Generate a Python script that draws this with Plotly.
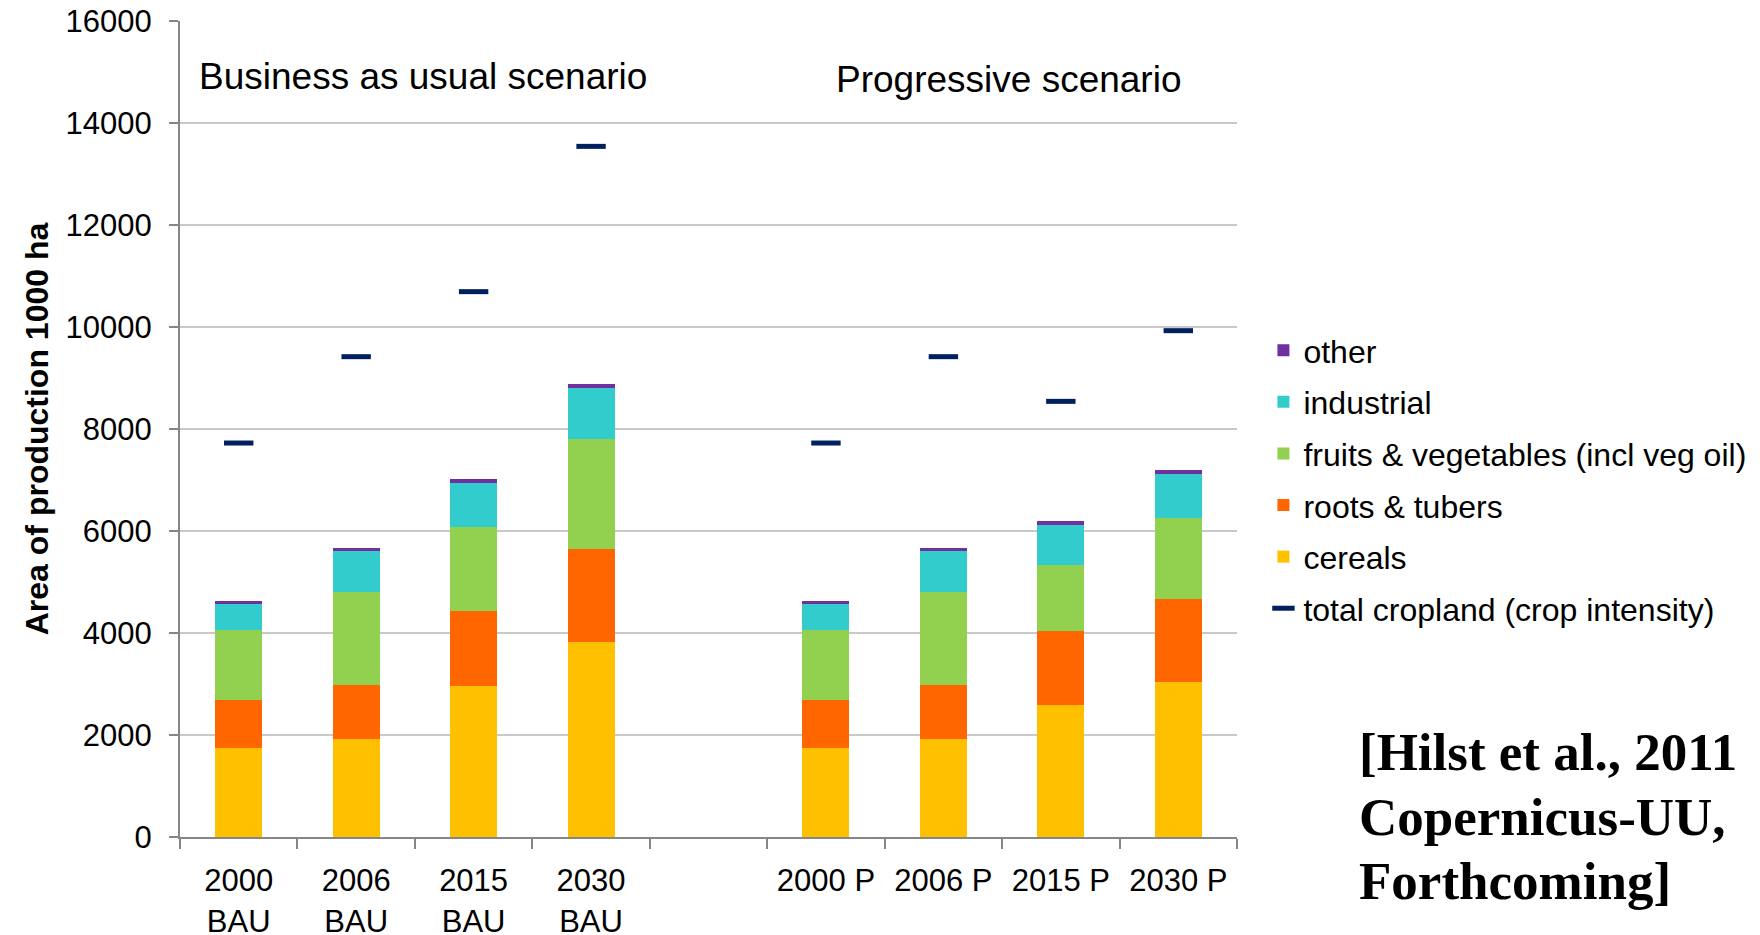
import plotly.graph_objects as go

# Category slots: four BAU years, an empty spacer slot, four progressive years
categories = ["2000<br>BAU", "2006<br>BAU", "2015<br>BAU", "2030<br>BAU", " ",
              "2000 P", "2006 P", "2015 P", "2030 P"]

# Area of production per crop group (1000 ha)
cereals = [1736, 1912, 2962, 3817, None, 1736, 1912, 2597, 3047]
roots_tubers = [959, 1064, 1462, 1821, None, 959, 1064, 1436, 1612]
fruits_veg = [1370, 1833, 1651, 2166, None, 1370, 1833, 1292, 1605]
industrial = [503, 803, 874, 1000, None, 503, 803, 796, 855]
other = [52, 52, 66, 78, None, 52, 52, 72, 72]

# Total cropland taking crop intensity into account
total_cropland = [7725, 9418, 10693, 13542, None, 7725, 9418, 8542, 9928]

y_ticks = [0, 2000, 4000, 6000, 8000, 10000, 12000, 14000, 16000]
y_tick_text = [str(v) for v in y_ticks]

citation_lines = ["[Hilst et al., 2011", "Copernicus-UU,", "Forthcoming]"]

SANS = "Liberation Sans, Arial, sans-serif"
SERIF = "Liberation Serif, Times New Roman, serif"

series = [
    ("cereals", cereals, "#FFC000", 5),
    ("roots & tubers", roots_tubers, "#FF6600", 4),
    ("fruits & vegetables (incl veg oil)", fruits_veg, "#92D050", 3),
    ("industrial", industrial, "#33CCCC", 2),
    ("other", other, "#7030A0", 1),
]

fig = go.Figure()
for name, vals, color, rank in series:
    fig.add_trace(go.Bar(
        x=categories, y=vals, name=name,
        marker=dict(color=color, line=dict(width=0)),
        legendrank=rank, legendgroup=name,
    ))

fig.add_trace(go.Scatter(
    x=categories, y=total_cropland, name="total cropland (crop intensity)",
    mode="markers",
    marker=dict(symbol="line-ew", size=21, color="#002060",
                line=dict(color="#002060", width=5)),
    legendrank=6, legendgroup="total",
))

# citation block, one annotation per line for tight line spacing
citation_y = [0.1039, 0.0249, -0.0539]
annotations = [
    dict(text="Business as usual scenario", xref="paper", yref="paper",
         x=0.016, y=0.932, xanchor="left", yanchor="middle",
         showarrow=False, font=dict(family=SANS, size=37)),
    dict(text="Progressive scenario", xref="paper", yref="paper",
         x=0.6186, y=0.928, xanchor="left", yanchor="middle",
         showarrow=False, font=dict(family=SANS, size=37)),
]
for line, yy in zip(citation_lines, citation_y):
    annotations.append(dict(
        text="<b>" + line + "</b>", xref="paper", yref="paper",
        x=1.1131, y=yy, xanchor="left", yanchor="middle", align="left",
        showarrow=False, font=dict(family=SERIF, size=53)))

fig.update_layout(
    width=1760, height=935,
    margin=dict(l=180, r=523, t=21, b=98, autoexpand=False),
    paper_bgcolor="white", plot_bgcolor="white",
    barmode="stack", bargap=0.6,
    font=dict(family=SANS, size=31, color="#000000"),
    showlegend=True,
    legend=dict(
        x=1.025, y=0.630, xanchor="left", yanchor="top",
        font=dict(family=SANS, size=32, color="#000000"),
        traceorder="grouped", tracegroupgap=7,
        bgcolor="rgba(0,0,0,0)",
    ),
    xaxis=dict(
        type="category", categoryorder="array", categoryarray=categories,
        range=[-0.5, len(categories) - 0.5],
        tickson="boundaries", ticks="outside", ticklen=10, tickwidth=2,
        tickcolor="#868686", showline=True, linecolor="#868686", linewidth=2,
        showgrid=False, tickfont=dict(family=SANS, size=31),
        ticklabelstandoff=15, automargin=False, fixedrange=True,
    ),
    yaxis=dict(
        range=[0, 16000], tickvals=y_ticks, ticktext=y_tick_text,
        ticks="outside", ticklen=9, ticklabelstandoff=11,
        tickwidth=2, tickcolor="#868686", showline=True, linecolor="#868686",
        linewidth=2, showgrid=True, gridcolor="#C9C9C9", gridwidth=2,
        zeroline=False, tickfont=dict(family=SANS, size=31), automargin=False,
        title=dict(text="<b>Area of production 1000 ha</b>",
                   font=dict(family=SANS, size=32), standoff=7),
    ),
    annotations=annotations,
)

fig.write_html("out.html")
